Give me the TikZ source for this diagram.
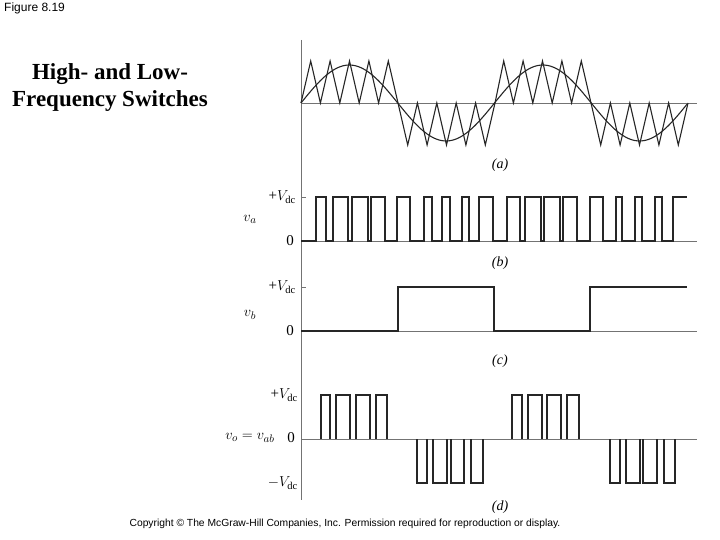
\documentclass[tikz,border=0pt]{standalone}
\usepackage{fontspec}
\setmainfont{Liberation Serif}
\newfontfamily\arialf{Liberation Sans}
\begin{document}
\begin{tikzpicture}[x=1pt,y=-1pt,
  wave/.style={line width=1.1pt,black!85},
  axis/.style={line width=0.6pt,black!55},
  lab/.style={font=\fontsize{15}{16}\selectfont,inner sep=0pt},
  captxt/.style={font=\fontsize{14}{15}\selectfont\itshape,inner sep=0pt}]
\useasboundingbox (0,0) rectangle (720,540);
\node[font=\arialf\fontsize{12}{13}\selectfont,anchor=north west,inner sep=0pt] (fig) at (4,3) {Figure 8.19};
\node[font=\bfseries\fontsize{23}{27}\selectfont,align=center] (title) at (110,88) {High- and Low-\\Frequency Switches};
\node[font=\arialf\fontsize{10.3}{12}\selectfont] (copy) at (345,524) {Copyright © The McGraw-Hill Companies, Inc. Permission required for reproduction or display.};
% axis
\coordinate (atop) at (301,40); \coordinate (abot) at (301,500);
\draw[axis] (atop) -- (abot);
% (a)
\coordinate (za) at (301,103); \coordinate (ze) at (697,103);
\draw[axis] (za) -- (ze);
\draw[wave,smooth,domain=0:386,samples=120] plot ({301+\x},{103-38*sin(\x/193.5*360)});
\draw[wave] (301,103)
 \foreach \k in {0,...,4}{ -- ({301+9.7+19.4*\k},61) -- ({301+19.4+19.4*\k},103)}
 \foreach \k in {0,...,4}{ -- ({398+9.7+19.4*\k},145) -- ({398+19.4+19.4*\k},103)}
 \foreach \k in {0,...,4}{ -- ({494+9.7+19.4*\k},61) -- ({494+19.4+19.4*\k},103)}
 \foreach \k in {0,...,4}{ -- ({591+9.7+19.4*\k},145) -- ({591+19.4+19.4*\k},103)};
\node[captxt] (ca) at (500,165) {(\textit{a})};
% (b)
\draw[axis] (301,241) -- (697,241);
\draw[axis] (301,197) -- (306,197);
\node[lab,anchor=east] (vdcb) at (296,197) {+$V_{\mathrm{dc}}$};
\node[lab] (vab) at (250,219) {$v_a$};
\node[lab] (zb) at (290,241) {0};
\draw[wave] (301,241) -- (316,241)
 \foreach \r/\f in {316/326,333/348,352/368,371/385,397/410,424/432,442/450,462/469,479/493,507/520,525/541,544/560,563/577,590/603,616/622,635/642,655/662}{ -- (\r,241) -- (\r,197) -- (\f,197) -- (\f,241)}
 -- (673,241) -- (673,197) -- (687,197);
\node[captxt] (cb) at (500,263) {(\textit{b})};
% (c)
\draw[axis] (301,331) -- (697,331);
\draw[axis] (301,287) -- (306,287);
\node[lab,anchor=east] (vdcc) at (296,287) {+$V_{\mathrm{dc}}$};
\node[lab] (vbb) at (250,315) {$v_b$};
\node[lab] (zc) at (290,331) {0};
\draw[wave] (301,331) -- (398,331) -- (398,287) -- (494,287) -- (494,331) -- (590,331) -- (590,287) -- (687,287);
\node[captxt] (cc) at (500,361) {(\textit{c})};
% (d)
\draw[axis] (301,439) -- (697,439);
\node[lab,anchor=east] (vdcd) at (298,395) {+$V_{\mathrm{dc}}$};
\node[lab] (vod) at (250,438) {$v_o = v_{ab}$};
\node[lab] (zd) at (291,438) {0};
\node[lab,anchor=east] (mvd) at (298,483) {$-V_{\mathrm{dc}}$};
\foreach \r/\f in {321/330,336/350,356/370,376/387,512/522,528/542,547/561,567/579}
  \draw[wave] (\r,439) -- (\r,395) -- (\f,395) -- (\f,439);
\foreach \r/\f in {417/427,433/447,451/464,471/483,610/620,626/640,643/657,664/675}
  \draw[wave] (\r,439) -- (\r,483) -- (\f,483) -- (\f,439);
\node[captxt] (cd) at (500,507) {(\textit{d})};
\end{tikzpicture}
\end{document}
